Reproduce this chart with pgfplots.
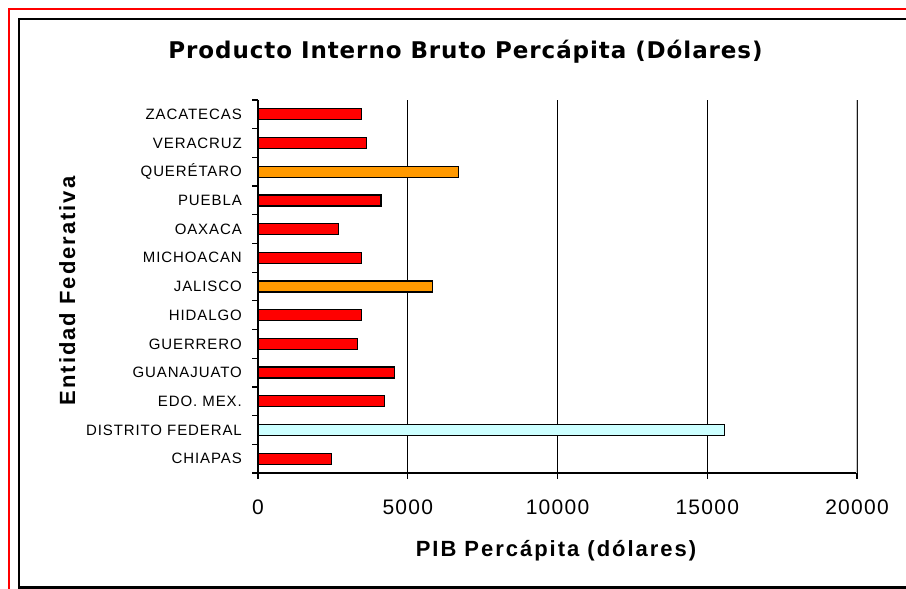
\documentclass[border=0pt]{standalone}
\usepackage{pgfplots}
\pgfplotsset{compat=1.18}
\usepackage{fontspec}
\setmainfont{Liberation Sans}
\newfontfamily\titlefont{DejaVu Sans}
\definecolor{barred}{RGB}{255,0,0}
\definecolor{barorange}{RGB}{255,153,0}
\definecolor{barcyan}{RGB}{204,255,255}
\begin{document}
\begin{tikzpicture}
\useasboundingbox (0,0) rectangle (906bp,589bp);
\fill[white] (0,0) rectangle (906bp,589bp);
\draw[red, line width=1.6bp] (9bp,-2bp) -- (9bp,580bp) -- (910bp,580bp);
\draw[black, line width=2bp] (18.5bp,1.5bp) rectangle (920bp,570bp);
\node[anchor=base, inner sep=0pt] at (465.5bp,530.7bp) {\titlefont\bfseries\fontsize{23bp}{27bp}\selectfont\addfontfeatures{LetterSpace=4}Producto Interno Bruto Percápita (Dólares)};
\node[anchor=base, inner sep=0pt] at (556bp,33bp) {\fontsize{22bp}{26bp}\selectfont\bfseries\addfontfeatures{LetterSpace=9}PIB Percápita (dólares)};
\node[anchor=base, inner sep=0pt, rotate=90] at (75bp,298bp) {\fontsize{22bp}{26bp}\selectfont\bfseries\addfontfeatures{LetterSpace=9}Entidad Federativa};
\begin{axis}[
  at={(258bp,116bp)}, anchor=south west,
  scale only axis, width=599bp, height=373bp,
  xmin=0, xmax=20000, ymin=-0.5, ymax=12.5,
  xbar, bar width=11bp, bar shift=0pt,
  axis x line*=bottom, axis y line*=left,
  axis line style={line width=1.2bp, -},
  tick align=outside, major tick length=6bp,
  tick style={black, line width=1.2bp},
  xtick={0,5000,10000,15000,20000},
  scaled x ticks=false,
  xmajorgrids, grid style={black, line width=1.2bp},
  /pgf/number format/1000 sep={},
  /pgf/number format/assume math mode=true,
  x tick label style={anchor=north, inner sep=0pt, yshift=-21bp, font=\fontsize{21bp}{24bp}\selectfont\addfontfeatures{LetterSpace=6}},
  ytick={-0.5,0.5,...,12.5}, yticklabels={},
  extra y ticks={0,1,...,12},
  extra y tick labels={CHIAPAS,DISTRITO FEDERAL,EDO. MEX.,GUANAJUATO,GUERRERO,HIDALGO,JALISCO,MICHOACAN,OAXACA,PUEBLA,QUERÉTARO,VERACRUZ,ZACATECAS},
  extra y tick style={major tick length=0pt},
  y tick label style={anchor=east, inner sep=0pt, xshift=-16bp, font=\fontsize{15bp}{18bp}\selectfont\addfontfeatures{LetterSpace=6}},
  every axis plot/.append style={draw=black, line width=1.2bp},
]
\addplot[fill=barred] coordinates {(2460,0) (4220,2) (4570,3) (3330,4) (3460,5) (3460,7) (2690,8) (4110,9) (3630,11) (3460,12)};
\addplot[fill=barorange] coordinates {(5820,6) (6690,10)};
\addplot[fill=barcyan] coordinates {(15570,1)};
\draw[gray!45, line width=1.4bp] (axis cs:20000,-0.5) -- (axis cs:20000,12.5);
\end{axis}
\end{tikzpicture}
\end{document}
